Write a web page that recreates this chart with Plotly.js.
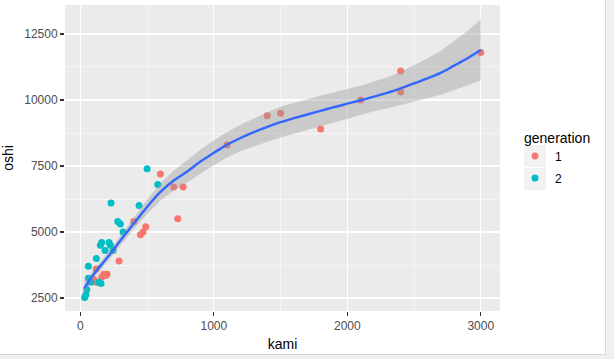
<!DOCTYPE html>
<html>
<head>
<meta charset="utf-8">
<script src="https://cdn.plot.ly/plotly-3.0.1.min.js"></script>
<style>
  html, body { margin: 0; padding: 0; background: #f0f0f0; }
  #wrap { width: 605px; height: 354px; background: #ffffff; border-right: 1px solid #d6d6d6; border-bottom: 1px solid #d6d6d6; }
  #chart { width: 605px; height: 354px; }
</style>
</head>
<body>
<div id="wrap"><div id="chart"></div></div>
<script>
// generation 1
const kami1 = [3000, 2400, 2400, 2100, 1800, 1500, 1400, 1100, 770, 700, 600, 730, 490, 470, 450, 400, 290, 200, 175, 190, 160, 118, 100, 120];
const oshi1 = [11800, 11100, 10300, 10000, 8900, 9500, 9400, 8300, 6700, 6700, 7200, 5500, 5200, 5000, 4900, 5400, 3900, 3400, 3400, 3350, 3300, 3600, 3200, 3100];
// generation 2
const kami2 = [500, 580, 440, 230, 280, 300, 320, 160, 215, 150, 225, 185, 245, 120, 60, 60, 80, 140, 155, 48, 42, 32];
const oshi2 = [7400, 6800, 6000, 6100, 5400, 5300, 5000, 4600, 4600, 4500, 4500, 4300, 4300, 4000, 3700, 3250, 3100, 3100, 3050, 2820, 2620, 2520];
// smooth fit
const smoothX = [30, 100, 200, 300, 400, 500, 600, 700, 800, 900, 1000, 1100, 1200, 1300, 1400, 1500, 1600, 1700, 1800, 1900, 2000, 2100, 2200, 2300, 2400, 2500, 2600, 2700, 2800, 2900, 3000];
const smoothFit = [2870, 3400, 4020, 4680, 5320, 5950, 6520, 6950, 7290, 7670, 8000, 8310, 8560, 8780, 8980, 9160, 9310, 9450, 9590, 9730, 9860, 9990, 10130, 10270, 10440, 10625, 10820, 11030, 11300, 11580, 11890];
const smoothHalf = [230, 170, 160, 180, 220, 270, 330, 380, 420, 455, 465, 475, 500, 530, 560, 580, 585, 580, 575, 570, 555, 545, 560, 590, 630, 680, 750, 830, 920, 1030, 1150];
const legendTitle = 'generation';
const groupNames = ['1', '2'];
const colors = ['#F8766D', '#00BFC4'];

const lower = smoothFit.map((v, i) => v - smoothHalf[i]);
const upper = smoothFit.map((v, i) => v + smoothHalf[i]);

const font = 'Liberation Sans, Arial, sans-serif';

const traces = [
  { x: kami1, y: oshi1, type: 'scatter', mode: 'markers', name: groupNames[0], legendgroup: 'g1',
    marker: { color: colors[0], size: 7 } },
  { x: kami2, y: oshi2, type: 'scatter', mode: 'markers', name: groupNames[1], legendgroup: 'g2',
    marker: { color: colors[1], size: 7 } },
  { x: smoothX, y: lower, type: 'scatter', mode: 'lines', line: { width: 0 }, showlegend: false, hoverinfo: 'skip' },
  { x: smoothX, y: upper, type: 'scatter', mode: 'lines', line: { width: 0 }, fill: 'tonexty',
    fillcolor: 'rgba(153,153,153,0.4)', showlegend: false, hoverinfo: 'skip' },
  { x: smoothX, y: smoothFit, type: 'scatter', mode: 'lines', line: { color: '#3366FF', width: 2.4, shape: 'spline' },
    showlegend: false, hoverinfo: 'skip' }
];

const W = 435, H = 306;
function px2x(p) { return (p - 65) / W; }
function px2y(p) { return (311 - p) / H; }

const layout = {
  width: 605, height: 354,
  margin: { l: 65, r: 105, t: 5, b: 43 },
  paper_bgcolor: '#ffffff',
  plot_bgcolor: '#EBEBEB',
  font: { family: font, color: '#000000' },
  showlegend: true,
  xaxis: {
    range: [-115, 3144], tickvals: [0, 1000, 2000, 3000], ticktext: ['0', '1000', '2000', '3000'],
    showgrid: true, gridcolor: '#ffffff', gridwidth: 1.1, zeroline: false, showline: false,
    minor: { tickvals: [500, 1500, 2500], showgrid: true, gridcolor: '#ffffff', gridwidth: 0.5, ticks: '' },
    ticks: 'outside', ticklen: 4, tickwidth: 1.1, tickcolor: '#333333',
    tickfont: { size: 12, color: '#4D4D4D', family: font },
    title: { text: 'kami', font: { size: 14, color: '#000000', family: font }, standoff: 6 }
  },
  yaxis: {
    range: [2008, 13598], tickvals: [2500, 5000, 7500, 10000, 12500],
    ticktext: ['2500', '5000', '7500', '10000', '12500'],
    showgrid: true, gridcolor: '#ffffff', gridwidth: 1.1, zeroline: false, showline: false,
    minor: { tickvals: [3750, 6250, 8750, 11250], showgrid: true, gridcolor: '#ffffff', gridwidth: 0.5, ticks: '' },
    ticks: 'outside', ticklen: 4, tickwidth: 1.1, tickcolor: '#333333',
    tickfont: { size: 12, color: '#4D4D4D', family: font },
    title: { text: 'oshi', font: { size: 14, color: '#000000', family: font }, standoff: 8 }
  },
  legend: {
    x: px2x(515), y: px2y(141.5), xanchor: 'left', yanchor: 'top',
    bgcolor: 'rgba(0,0,0,0)', borderwidth: 0,
    font: { size: 12, color: '#000000', family: font },
    tracegroupgap: 3, itemwidth: 30
  },
  annotations: [
    { text: legendTitle, xref: 'paper', yref: 'paper', x: px2x(522), y: px2y(128),
      xanchor: 'left', yanchor: 'top', showarrow: false, font: { size: 14, color: '#000000', family: font } }
  ],
  shapes: [
    { type: 'rect', xref: 'paper', yref: 'paper', x0: px2x(524), x1: px2x(546), y0: px2y(167), y1: px2y(145),
      fillcolor: '#F2F2F2', line: { width: 0 }, layer: 'below' },
    { type: 'rect', xref: 'paper', yref: 'paper', x0: px2x(524), x1: px2x(546), y0: px2y(190), y1: px2y(168),
      fillcolor: '#F2F2F2', line: { width: 0 }, layer: 'below' }
  ]
};

Plotly.newPlot('chart', traces, layout, { displayModeBar: false, staticPlot: true });
</script>
</body>
</html>
